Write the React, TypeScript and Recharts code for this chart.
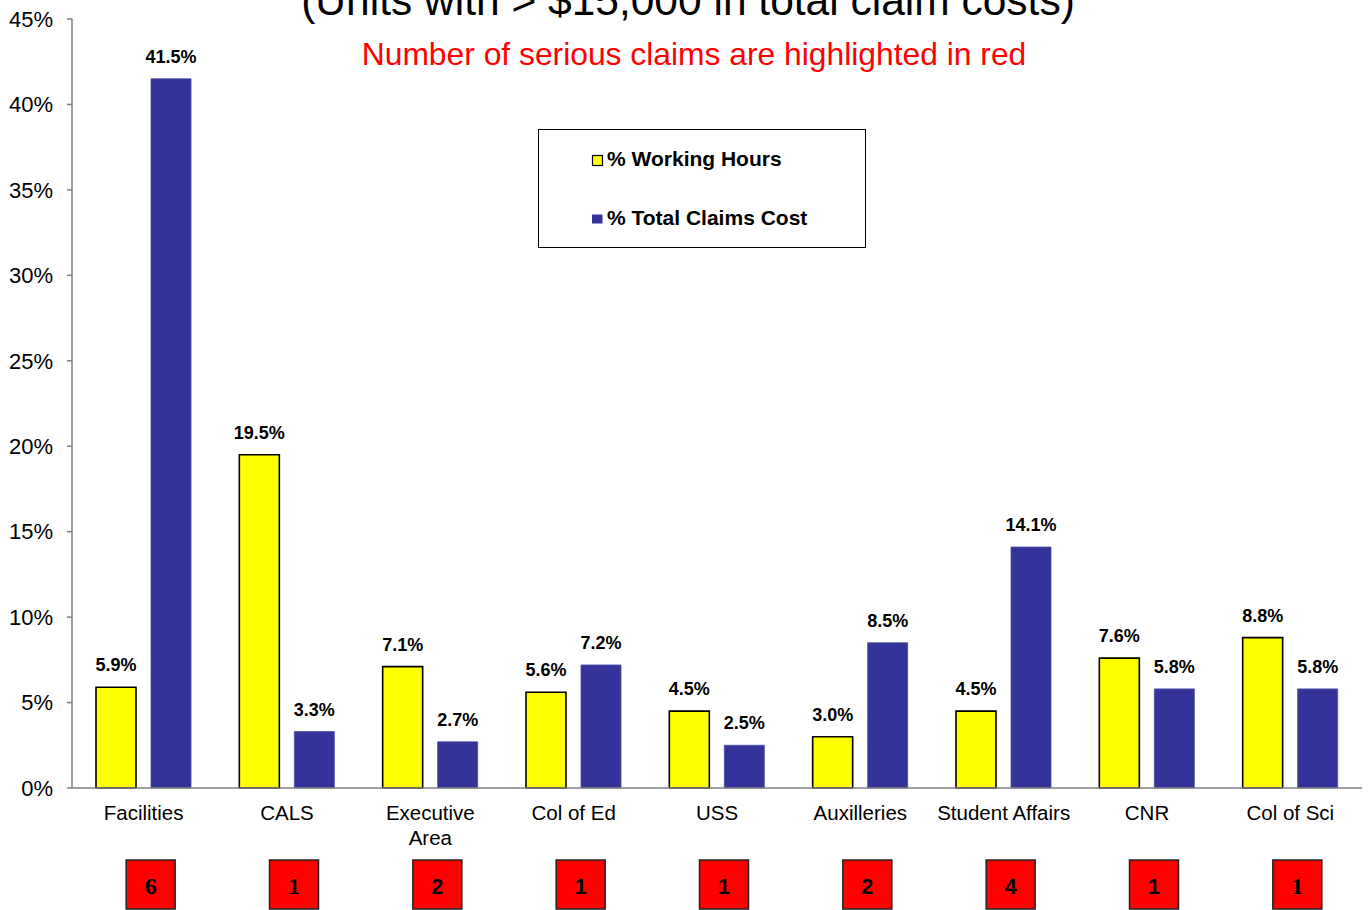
import React from "react";
import { BarChart, Bar, XAxis, YAxis, Legend, LabelList } from "recharts";

const categories = [
  "Facilities",
  "CALS",
  "Executive\nArea",
  "Col of Ed",
  "USS",
  "Auxilleries",
  "Student Affairs",
  "CNR",
  "Col of Sci",
];
const workingHours = [5.9, 19.5, 7.1, 5.6, 4.5, 3.0, 4.5, 7.6, 8.8];
const claimsCost = [41.5, 3.3, 2.7, 7.2, 2.5, 8.5, 14.1, 5.8, 5.8];
const seriousClaims = [6, 1, 2, 1, 1, 2, 4, 1, 1];
const yTicks = [0, 5, 10, 15, 20, 25, 30, 35, 40, 45];

const titleText = "(Units with > $15,000 in total claim costs)";
const subtitleText = "Number of serious claims are highlighted in red";
const hoursName = "% Working Hours";
const costName = "% Total Claims Cost";

const serifBoxes = new Set(["Facilities", "CALS", "Col of Sci"]);

const data = categories.map((c, i) => ({
  name: c,
  hours: workingHours[i],
  cost: claimsCost[i],
  serious: seriousClaims[i],
}));

const SANS = "'Liberation Sans', Arial, Helvetica, sans-serif";
const SERIF = "'Liberation Serif', 'Times New Roman', serif";
const YELLOW = "#FFFF00";
const BLUE = "#333399";
const AXIS = "#808080";

const XTick = (props: any) => {
  const { x, y, payload } = props;
  const idx = payload && typeof payload.index === "number" ? payload.index : props.index;
  const name = String(payload.value);
  const lines = name.split("\n");
  const bx = x + 7;
  const isSerif = serifBoxes.has(name);
  return (
    <g>
      <text x={x} y={y + 32} textAnchor="middle" fontSize={20.5} fontFamily={SANS} fill="#000">
        {lines.map((l: string, k: number) => (
          <tspan key={k} x={x} dy={k === 0 ? 0 : 24.5}>
            {l}
          </tspan>
        ))}
      </text>
      <rect x={bx - 24.5} y={y + 72} width={49} height={49} fill="#FF0000" stroke="#222" strokeWidth={1.5} />
      <text
        x={bx}
        y={y + 106}
        textAnchor="middle"
        fontSize={isSerif ? 24 : 21.5}
        fontWeight="bold"
        fontFamily={isSerif ? SERIF : SANS}
        fill="#000"
      >
        {data[idx] ? data[idx].serious : ""}
      </text>
    </g>
  );
};

const LegendBox = () => (
  <svg width={328} height={119} style={{ display: "block" }}>
    <rect x={0.5} y={0.5} width={327} height={118} fill="#fff" stroke="#000" strokeWidth={1} />
    <rect x={54.5} y={26.5} width={10} height={10} fill={YELLOW} stroke="#000" strokeWidth={1.2} />
    <text x={69} y={37} fontSize={21} fontWeight="bold" fontFamily={SANS} fill="#000">
      {hoursName}
    </text>
    <rect x={54} y={85.5} width={10.5} height={9} fill={BLUE} />
    <text x={69} y={96} fontSize={21} fontWeight="bold" fontFamily={SANS} fill="#000">
      {costName}
    </text>
  </svg>
);

const fmt = (v: any) => `${Number(v).toFixed(1)}%`;

export default function App() {
  return (
    <div style={{ position: "absolute", left: 0, top: 0, width: 1370, height: 910, background: "#fff" }}>
      <BarChart
        width={1370}
        height={910}
        data={data}
        margin={{ top: 19, right: 8, left: 0, bottom: 0 }}
        barSize={40}
        barGap={15}
      >
        <XAxis
          dataKey="name"
          height={122}
          interval={0}
          tickLine={false}
          tickSize={0}
          tickMargin={0}
          axisLine={{ stroke: AXIS, strokeWidth: 1.5 }}
          tick={<XTick />}
        />
        <YAxis
          width={72}
          domain={[0, 45]}
          ticks={yTicks}
          interval={0}
          tickSize={5}
          tickMargin={14}
          tickFormatter={(v: number) => `${v}%`}
          axisLine={{ stroke: AXIS, strokeWidth: 1.5 }}
          tickLine={{ stroke: AXIS, strokeWidth: 1.5 }}
          tick={{ fill: "#000", fontSize: 22, fontFamily: SANS }}
        />
        <Legend
          layout="vertical"
          align="center"
          verticalAlign="middle"
          content={() => <LegendBox />}
          wrapperStyle={{ left: 538, top: 129, width: 328, height: 119, right: "auto", bottom: "auto" }}
        />
        <Bar dataKey="hours" name={hoursName} fill={YELLOW} stroke="#000" strokeWidth={1.6} isAnimationActive={false}>
          <LabelList
            dataKey="hours"
            position="top"
            offset={16}
            formatter={fmt}
            fill="#000"
            fontSize={18}
            fontWeight="bold"
            fontFamily={SANS}
          />
        </Bar>
        <Bar dataKey="cost" name={costName} fill={BLUE} stroke="#4a4aa6" strokeWidth={0.8} isAnimationActive={false}>
          <LabelList
            dataKey="cost"
            position="top"
            offset={16}
            formatter={fmt}
            fill="#000"
            fontSize={18}
            fontWeight="bold"
            fontFamily={SANS}
          />
        </Bar>
      </BarChart>
      <svg
        width={1370}
        height={910}
        style={{ position: "absolute", left: 0, top: 0, pointerEvents: "none" }}
      >
        <text x={688} y={15} textAnchor="middle" fontSize={42.5} fontFamily={SANS} fill="#000">
          {titleText}
        </text>
        <text x={694} y={65} textAnchor="middle" fontSize={31.8} fontFamily={SANS} fill="#FF0000">
          {subtitleText}
        </text>
      </svg>
    </div>
  );
}
